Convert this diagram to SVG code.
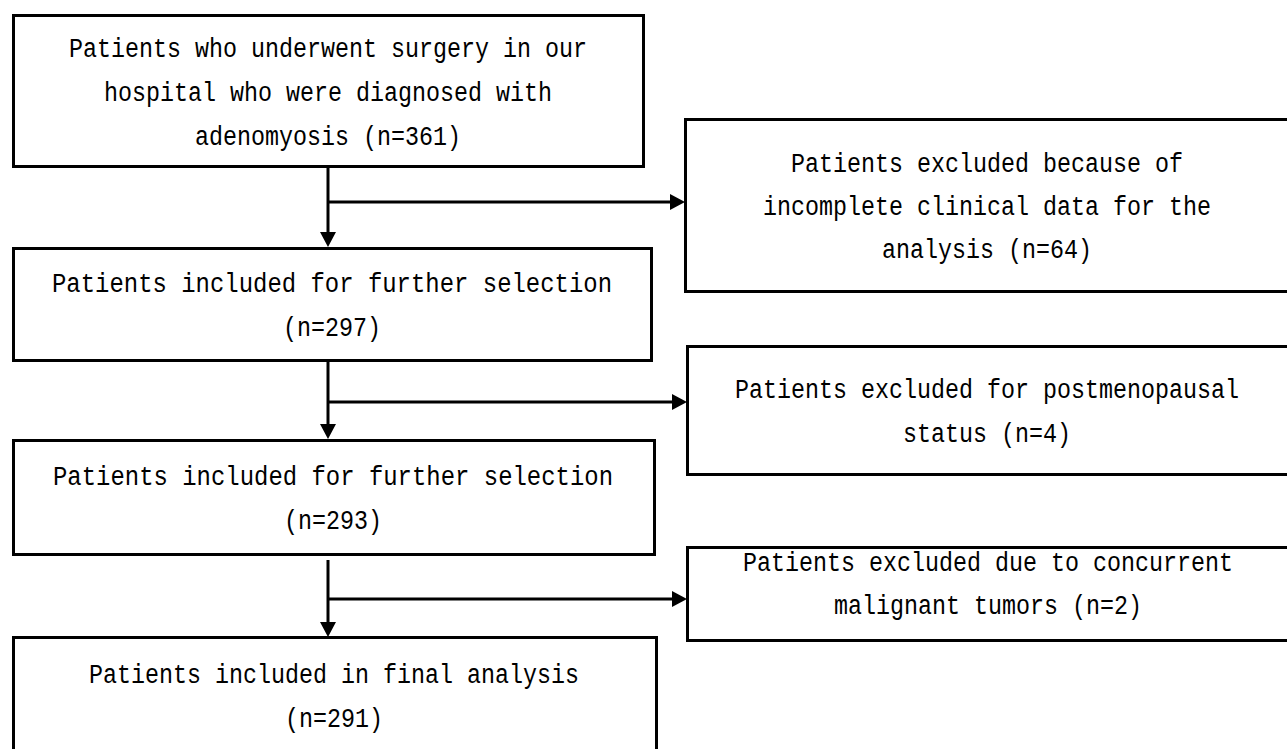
<svg xmlns="http://www.w3.org/2000/svg" width="1287" height="749" viewBox="0 0 1287 749">
<style>
.box{fill:#fff;stroke:#000;stroke-width:3}
.t{font-family:"Liberation Mono","DejaVu Sans Mono",monospace;font-size:27px;fill:#000;text-anchor:middle}
.c{fill:none;stroke:#000;stroke-width:3}
</style>
<defs>
<marker id="ah" viewBox="0 0 15 16" refX="10" refY="8" markerWidth="15" markerHeight="16" markerUnits="userSpaceOnUse" orient="auto" overflow="visible">
<path d="M0,0 L15,8 L0,16 Z" fill="#000"/>
</marker>
</defs>
<rect width="1287" height="749" fill="#fff"/>
<g id="n1">
<rect class="box" x="13.5" y="15.5" width="630" height="151"/>
<text class="t" x="328" y="57" textLength="518" lengthAdjust="spacingAndGlyphs">Patients who underwent surgery in our</text>
<text class="t" x="328" y="101" textLength="448" lengthAdjust="spacingAndGlyphs">hospital who were diagnosed with</text>
<text class="t" x="328" y="145" textLength="266" lengthAdjust="spacingAndGlyphs">adenomyosis (n=361)</text>
</g>
<g id="r1">
<path class="box" d="M1287,119.5 H685.5 V291.5 H1287"/>
<text class="t" x="987" y="172" textLength="392" lengthAdjust="spacingAndGlyphs">Patients excluded because of</text>
<text class="t" x="987" y="215" textLength="448" lengthAdjust="spacingAndGlyphs">incomplete clinical data for the</text>
<text class="t" x="987" y="258" textLength="210" lengthAdjust="spacingAndGlyphs">analysis (n=64)</text>
</g>
<g id="n2">
<rect class="box" x="13.5" y="248.5" width="638" height="112"/>
<text class="t" x="332" y="292" textLength="560" lengthAdjust="spacingAndGlyphs">Patients included for further selection</text>
<text class="t" x="332" y="336" textLength="98" lengthAdjust="spacingAndGlyphs">(n=297)</text>
</g>
<g id="r2">
<path class="box" d="M1287,346.5 H687.5 V474.5 H1287"/>
<text class="t" x="987" y="398" textLength="504" lengthAdjust="spacingAndGlyphs">Patients excluded for postmenopausal</text>
<text class="t" x="987" y="442" textLength="168" lengthAdjust="spacingAndGlyphs">status (n=4)</text>
</g>
<g id="n3">
<rect class="box" x="13.5" y="440.5" width="641" height="114"/>
<text class="t" x="333" y="485" textLength="560" lengthAdjust="spacingAndGlyphs">Patients included for further selection</text>
<text class="t" x="333" y="529" textLength="98" lengthAdjust="spacingAndGlyphs">(n=293)</text>
</g>
<g id="r3">
<path class="box" d="M1287,547.5 H687.5 V640.5 H1287"/>
<text class="t" x="988" y="571" textLength="490" lengthAdjust="spacingAndGlyphs">Patients excluded due to concurrent</text>
<text class="t" x="988" y="614" textLength="308" lengthAdjust="spacingAndGlyphs">malignant tumors (n=2)</text>
</g>
<g id="n4">
<rect class="box" x="13.5" y="637.5" width="643" height="130"/>
<text class="t" x="334" y="683" textLength="490" lengthAdjust="spacingAndGlyphs">Patients included in final analysis</text>
<text class="t" x="334" y="727" textLength="98" lengthAdjust="spacingAndGlyphs">(n=291)</text>
</g>
<g id="connectors">
<path class="c" d="M328,167 V242" marker-end="url(#ah)"/>
<path class="c" d="M328,202 H680" marker-end="url(#ah)"/>
<path class="c" d="M328,362 V434" marker-end="url(#ah)"/>
<path class="c" d="M328,402 H682" marker-end="url(#ah)"/>
<path class="c" d="M328,560 V632" marker-end="url(#ah)"/>
<path class="c" d="M328,599 H682" marker-end="url(#ah)"/>
</g>
</svg>
